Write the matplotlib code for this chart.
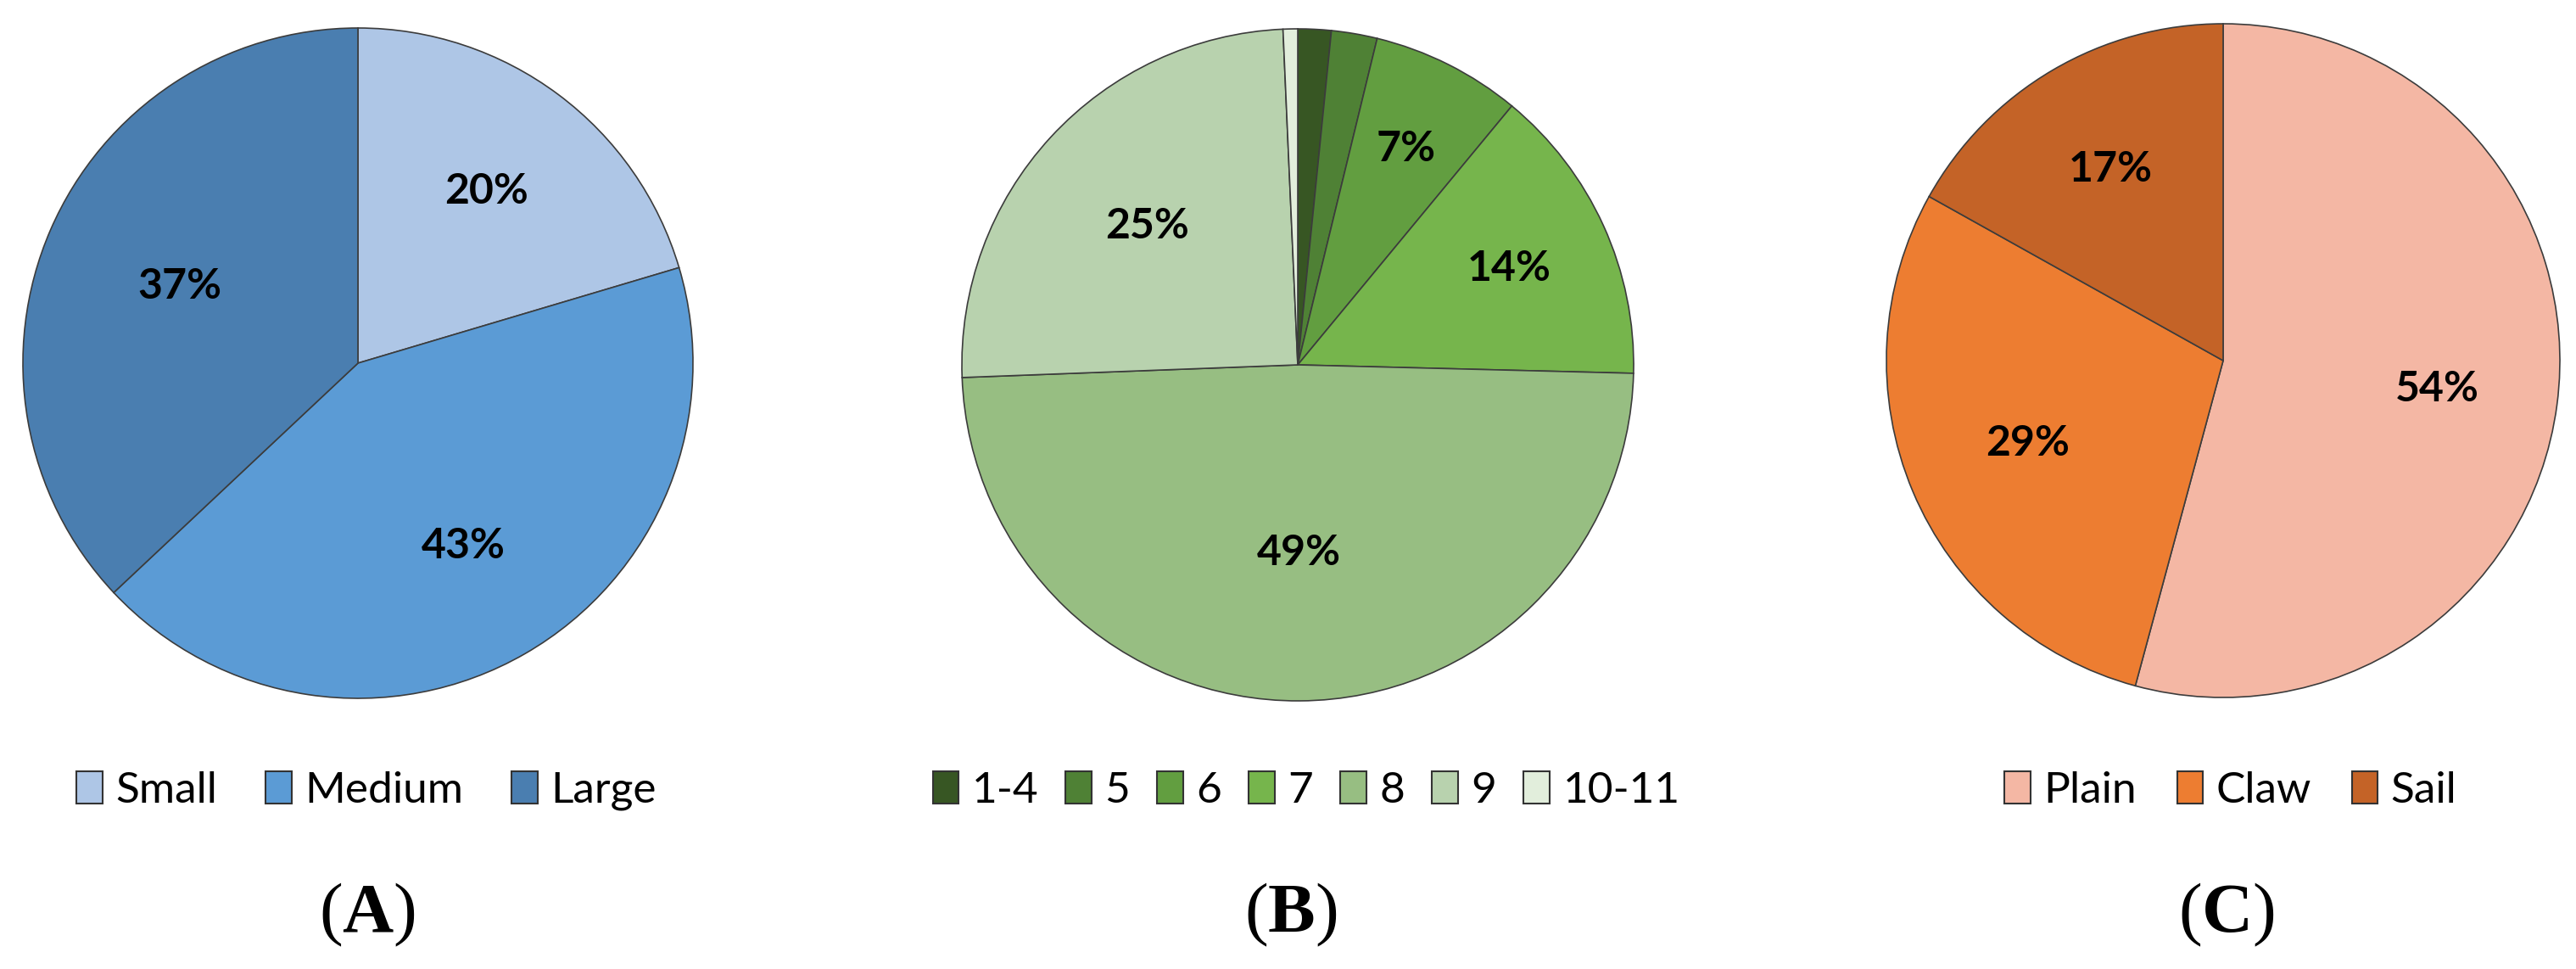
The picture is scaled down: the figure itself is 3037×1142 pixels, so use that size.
import numpy as np
import matplotlib
matplotlib.use("Agg")
import matplotlib.pyplot as plt
from matplotlib.patches import Patch

# ---- data ----
size_labels = ["Small", "Medium", "Large"]
size_values = [20.4, 42.6, 37.0]
size_colors = ["#AEC6E6", "#5B9BD5", "#4A7EB0"]

count_labels = ["1-4", "5", "6", "7", "8", "9", "10-11"]
count_values = [1.6, 2.2, 7.2, 14.4, 49.0, 24.9, 0.7]
count_colors = ["#375623", "#4F8135", "#629E40", "#76B54C", "#97BE82", "#B8D2AE", "#E2EEDC"]

type_labels = ["Plain", "Claw", "Sail"]
type_values = [54.2, 28.9, 16.9]
type_colors = ["#F4B7A4", "#ED7D31", "#C46327"]

panel_labels = ["A", "B", "C"]

plt.rcParams["mathtext.fontset"] = "custom"
plt.rcParams["mathtext.rm"] = "Liberation Serif"
plt.rcParams["mathtext.bf"] = "Liberation Serif:bold"

W, H = 3037, 1142
fig = plt.figure(figsize=(W / 100, H / 100), dpi=100)


def add_pie(cx, cy, r, values, colors, names, dists, leg_cx, colspace, panel, panel_cx):
    ax = fig.add_axes([(cx - r) / W, (H - cy - r) / H, 2 * r / W, 2 * r / H])
    wedges, _ = ax.pie(values, colors=colors, startangle=90, counterclock=False,
                       wedgeprops=dict(edgecolor="#3c3c3c", linewidth=1.2))
    ax.set_xlim(-1, 1)
    ax.set_ylim(-1, 1)
    for w, v, d in zip(wedges, values, dists):
        if d is None:
            continue
        th = np.deg2rad((w.theta1 + w.theta2) / 2)
        ax.text(d * np.cos(th), d * np.sin(th), f"{v:.0f}%", ha="center", va="center",
                fontsize=36, fontweight="bold", family="Lato", color="black")
    handles = [Patch(facecolor=c, edgecolor="#333333", linewidth=1.5) for c in colors]
    fig.legend(handles, names, loc="center", bbox_to_anchor=(leg_cx / W, 1 - 932 / H),
               ncol=len(names), frameon=False, prop=dict(family="Lato", size=37),
               handlelength=0.6, handleheight=0.75, handletextpad=0.3,
               columnspacing=colspace, borderpad=0, borderaxespad=0)
    fig.text(panel_cx / W, 1 - 1078 / H, r"$\mathrm{(}\mathbf{" + panel + r"}\mathrm{)}$",
             ha="center", va="center", fontsize=60)


add_pie(422, 428, 395, size_values, size_colors, size_labels,
        [0.64, 0.63, 0.58], 432, 1.1, panel_labels[0], 433)
add_pie(1530, 430, 396, count_values, count_colors, count_labels,
        [None, None, 0.72, 0.69, 0.56, 0.61, None], 1540, 0.62, panel_labels[1], 1522)
add_pie(2621, 425, 397, type_values, type_colors, type_labels,
        [0.64, 0.63, 0.66], 2630, 0.92, panel_labels[2], 2625)

fig.savefig("out.png", dpi=100, facecolor="white")
